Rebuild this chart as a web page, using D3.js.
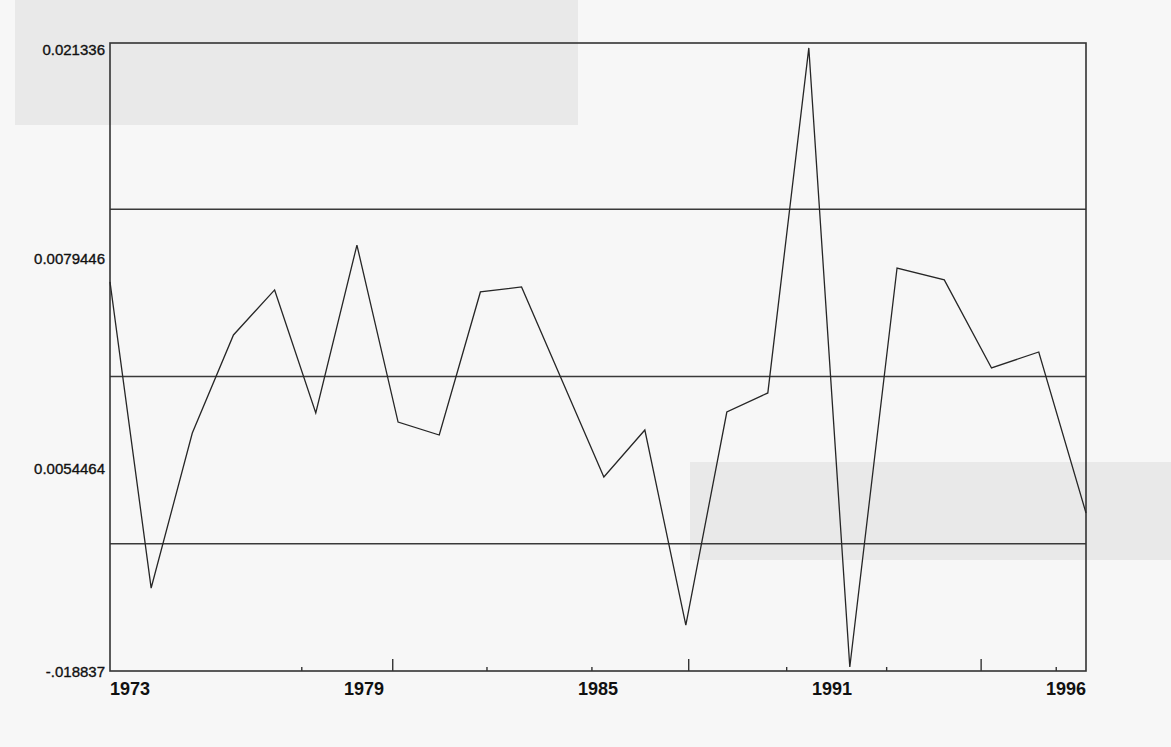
<!DOCTYPE html>
<html><head><meta charset="utf-8">
<script src="https://cdn.jsdelivr.net/npm/d3@7"></script>
<style>
html,body{margin:0;padding:0;background:#f7f7f7;}
svg{display:block;}
</style></head><body>
<svg id="chart" width="1171" height="747"></svg>
<script>
// ---- data ----
const years = [1973,1974,1975,1976,1977,1978,1979,1980,1981,1982,1983,1984,
               1985,1986,1987,1988,1989,1990,1991,1992,1993,1994,1995,1996];
const residuals = [0.00605,-0.01353,-0.00361,0.00266,0.00554,-0.00233,0.00841,-0.00291,
                   -0.00374,0.00541,0.00573,-0.00035,-0.00643,-0.00342,-0.01590,-0.00227,
                   -0.00105,0.02102,-0.01858,0.00694,0.00618,0.00055,0.00157,-0.00873];
const yTickValues = [0.021336, 0.0079446, -0.0054464, -0.018837];
const yTickLabels = ["0.021336", "0.0079446", "0.0054464", "-.018837"];
const bandValues = [0.0107, 0, -0.0107];
const xTickLabels = ["1973", "1979", "1985", "1991", "1996"];
const majorTickYears = [1979.87, 1987.07, 1993.78];
const minorTickYears = [1977.66, 1982.16, 1984.71, 1989.46, 1991.78, 1995.37];

// ---- layout ----
const W = 1171, H = 747;
const margin = {top: 43, right: 85, bottom: 76, left: 110};
const w = W - margin.left - margin.right;
const h = H - margin.top - margin.bottom;

const svg = d3.select('#chart');

// faint scan bleed-through patches of the page
const bg = svg.append('g').attr('class', 'paper');
bg.append('rect').attr('x', 15).attr('y', 0).attr('width', 563).attr('height', 125).attr('fill', '#e9e9e9');
bg.append('rect').attr('x', 690).attr('y', 462).attr('width', W - 690).attr('height', 98).attr('fill', '#e9e9e9');

const g = svg.append('g').attr('transform', `translate(${margin.left},${margin.top})`);

// piecewise time axis, as the printed plot is slightly uneven along x
const x = d3.scaleLinear()
  .domain([1973, 1985, 1991, 1996])
  .range([0, 0.506 * w, 0.758 * w, w]);
const y = d3.scaleLinear().domain([d3.min(yTickValues), d3.max(yTickValues)]).range([h, 0]);

// reference lines
g.selectAll('line.band').data(bandValues).join('line')
  .attr('class', 'band')
  .attr('x1', 0).attr('x2', w)
  .attr('y1', d => y(d)).attr('y2', d => y(d))
  .attr('stroke', '#3a3a3a').attr('stroke-width', 1.6);

// frame
g.append('rect').attr('x', 0).attr('y', 0).attr('width', w).attr('height', h)
  .attr('fill', 'none').attr('stroke', '#333').attr('stroke-width', 1.6);

// bottom ticks
g.selectAll('line.major').data(majorTickYears).join('line')
  .attr('class', 'major')
  .attr('x1', d => x(d)).attr('x2', d => x(d))
  .attr('y1', h).attr('y2', h - 12)
  .attr('stroke', '#333').attr('stroke-width', 1.4);
g.selectAll('line.minor').data(minorTickYears).join('line')
  .attr('class', 'minor')
  .attr('x1', d => x(d)).attr('x2', d => x(d))
  .attr('y1', h).attr('y2', h - 4)
  .attr('stroke', '#333').attr('stroke-width', 1.4);

// series
const line = d3.line().x((d, i) => x(years[i])).y(d => y(d));
g.append('path').datum(residuals)
  .attr('d', line)
  .attr('fill', 'none')
  .attr('stroke', '#262626')
  .attr('stroke-width', 1.3)
  .attr('stroke-linejoin', 'miter');

// y labels
g.selectAll('text.ylab').data(yTickValues).join('text')
  .attr('class', 'ylab')
  .attr('x', -5)
  .attr('y', (d, i) => y(d) + (i < yTickValues.length - 1 ? 12 : 6))
  .attr('text-anchor', 'end')
  .attr('font-family', '"Liberation Sans", Arial, sans-serif')
  .attr('font-size', 15)
  .attr('fill', '#111')
  .attr('stroke', '#111')
  .attr('stroke-width', 0.35)
  .text((d, i) => yTickLabels[i]);

// x labels (evenly spread across the frame)
const xl = g.append('g').attr('class', 'xlabels');
const probe = xl.append('text')
  .attr('font-family', '"Liberation Sans", Arial, sans-serif')
  .attr('font-size', 18).attr('font-weight', 'bold').text(xTickLabels[0]);
const lw = probe.node().getComputedTextLength();
probe.remove();
const xp = d3.scalePoint().domain(xTickLabels).range([lw / 2, w - lw / 2]);
xl.selectAll('text').data(xTickLabels).join('text')
  .attr('x', d => xp(d))
  .attr('y', h + 24)
  .attr('text-anchor', 'middle')
  .attr('font-family', '"Liberation Sans", Arial, sans-serif')
  .attr('font-size', 18)
  .attr('font-weight', 'bold')
  .attr('fill', '#111')
  .text(d => d);
</script>
</body></html>
